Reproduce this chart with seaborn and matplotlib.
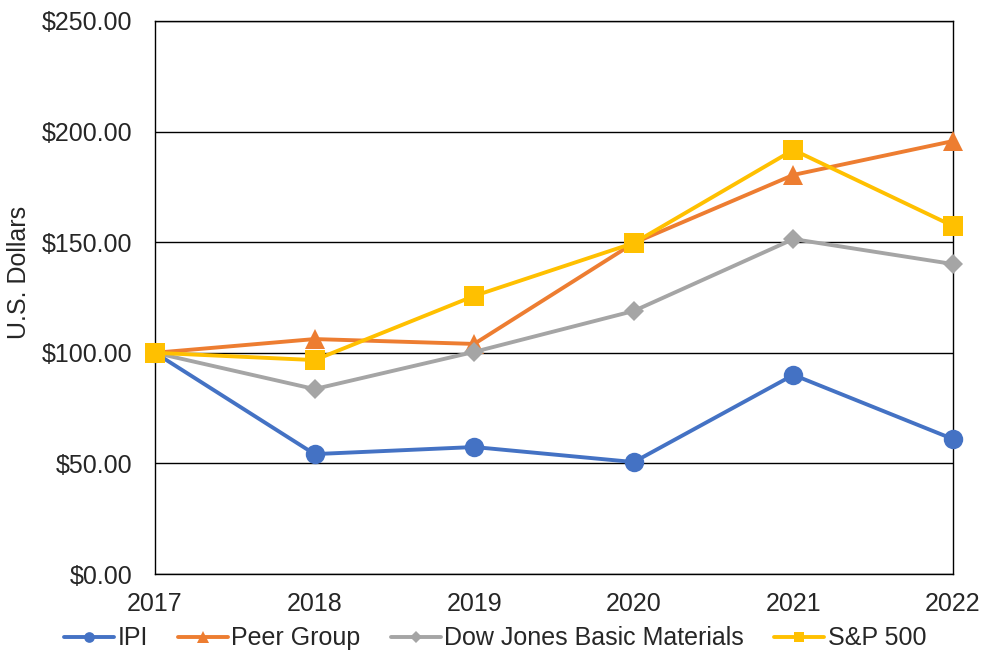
import seaborn as sns
import matplotlib.pyplot as plt
import pandas as pd

# Data
years = [2017, 2018, 2019, 2020, 2021, 2022]
ipi = [100.0, 54.2, 57.4, 50.6, 90.0, 61.0]
peer = [100.0, 106.2, 104.0, 149.6, 180.4, 195.7]
dow_jones = [100.0, 83.6, 100.4, 118.9, 151.4, 140.1]
sp500 = [100.0, 96.7, 125.7, 149.6, 191.7, 157.3]

series_names = ["IPI", "Peer Group", "Dow Jones Basic Materials", "S&P 500"]
series_values = [ipi, peer, dow_jones, sp500]

df = pd.concat(
    [pd.DataFrame({"Year": years, "Value": v, "Series": n})
     for n, v in zip(series_names, series_values)],
    ignore_index=True,
)

sns.set_theme(style="white")
plt.rcParams['font.family'] = ['Liberation Sans', 'DejaVu Sans']

colors = {"IPI": "#4472C4", "Peer Group": "#ED7D31",
          "Dow Jones Basic Materials": "#A5A5A5", "S&P 500": "#FFC000"}
markers = {"IPI": "o", "Peer Group": "^",
           "Dow Jones Basic Materials": "D", "S&P 500": "s"}
msizes = {"IPI": 14, "Peer Group": 15,
          "Dow Jones Basic Materials": 10.5, "S&P 500": 14}

fig = plt.figure(figsize=(9.84, 6.54), dpi=100)
ax = fig.add_axes([0.1575, 0.1223, 0.811, 0.8457])

for name in series_names:
    sub = df[df["Series"] == name]
    sns.lineplot(data=sub, x="Year", y="Value", ax=ax, color=colors[name],
                 marker=markers[name], markersize=msizes[name],
                 markeredgewidth=0, linewidth=2.8, label=name,
                 clip_on=False, zorder=3)

ax.set_xlim(2017, 2022)
ax.set_ylim(0, 250)
ax.set_yticks(range(0, 251, 50))
ax.set_yticklabels([f"${v:.2f}" for v in range(0, 251, 50)])
ax.set_xticks(years)
ax.yaxis.grid(True, color="black", linewidth=1)
ax.set_axisbelow(True)
for sp in ax.spines.values():
    sp.set_color("black")
    sp.set_linewidth(1)
ax.tick_params(axis="x", direction="out", length=6, width=1, color="black",
               labelsize=18, pad=7, labelcolor="#262626")
ax.tick_params(axis="y", length=0, labelsize=18, pad=16, labelcolor="#262626")
ax.set_xlabel("")
ax.set_ylabel("U.S. Dollars", fontsize=18, color="#262626")
ax.yaxis.set_label_coords(-0.155, 0.546)

leg = fig.legend(*ax.get_legend_handles_labels(), loc="center",
                 bbox_to_anchor=(0.503, 0.024), ncol=4, frameon=False,
                 fontsize=18, handlelength=2.0, handletextpad=0.15,
                 columnspacing=1.2, markerscale=0.55, borderaxespad=0)
for t in leg.get_texts():
    t.set_color("#262626")
ax.get_legend().remove()

fig.savefig("out.png", dpi=100)
